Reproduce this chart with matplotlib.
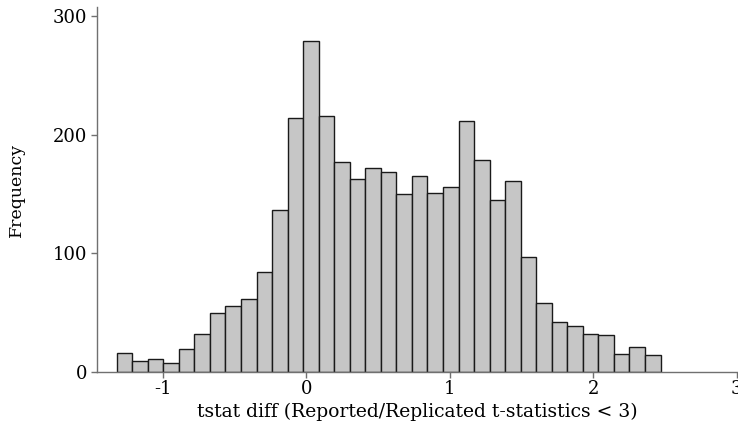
import numpy as np
import matplotlib
matplotlib.use("Agg")
import matplotlib.pyplot as plt

# ---------- data ----------
counts = [16, 9, 11, 8, 19, 32, 50, 56, 62, 84, 137, 214, 279, 216, 177,
          163, 172, 169, 150, 165, 151, 156, 212, 179, 145, 161, 97, 58,
          42, 39, 32, 31, 15, 21, 14]
x_min, x_max = -1.321, 2.470
x_ticks = [-1, 0, 1, 2, 3]
y_ticks = [0, 100, 200, 300]

edges = np.linspace(x_min, x_max, len(counts) + 1)

plt.rcParams['font.family'] = ['DejaVu Serif']

# ---------- plot ----------
fig = plt.figure(figsize=(7.38, 4.34), dpi=100)
ax = fig.add_axes([97.3 / 738, 1 - 372 / 434, (738 - 97.3) / 738, (372 - 7) / 434])

ax.hist(edges[:-1], bins=edges, weights=counts,
        color='#c6c6c6', edgecolor='#1a1a1a', linewidth=1.0)

ax.set_xlim(-1.456, 3.01)
ax.set_ylim(0, 308)
ax.set_xticks(x_ticks)
ax.set_xticklabels([str(t) for t in x_ticks])
ax.set_yticks(y_ticks)

for side in ('top', 'right'):
    ax.spines[side].set_visible(False)
for side in ('left', 'bottom'):
    ax.spines[side].set_color('#707070')
    ax.spines[side].set_linewidth(1.0)
ax.tick_params(colors='#707070', labelcolor='black', length=4, width=1.0,
               labelsize=13)
ax.tick_params(axis='x', pad=2)
ax.tick_params(axis='y', pad=3)

ax.set_xlabel('tstat diff (Reported/Replicated t-statistics < 3)',
              fontsize=13.5, labelpad=3)
ax.set_ylabel('Frequency', fontsize=12.5, labelpad=20)

# ---------- save ----------
fig.savefig('out.png', dpi=100)
